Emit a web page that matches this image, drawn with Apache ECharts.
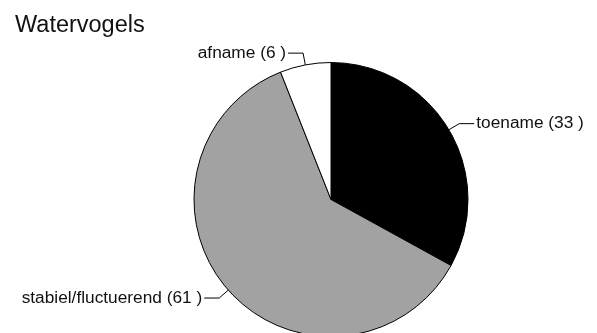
<!DOCTYPE html>
<html>
<head>
<meta charset="utf-8">
<script src="https://cdn.jsdelivr.net/npm/echarts@6/dist/echarts.min.js"></script>
<style>
  html, body { margin: 0; padding: 0; background: #fff; }
  #chart { width: 597px; height: 333px; }
</style>
</head>
<body>
<div id="chart"></div>
<script>
// Trend categories for water birds, counted clockwise from the top
const categories = ['toename', 'stabiel/fluctuerend', 'afname'];
const counts = [33, 61, 6];
const sliceColors = ['#000000', '#a2a2a2', '#ffffff'];

const chart = echarts.init(document.getElementById('chart'), null, { renderer: 'canvas' });

chart.setOption({
  animation: false,
  backgroundColor: '#ffffff',
  title: {
    text: 'Watervogels',
    left: 10,
    top: 9,
    textStyle: {
      fontFamily: 'Liberation Sans, Arial, sans-serif',
      fontSize: 23.5,
      fontWeight: 'normal',
      color: '#111111'
    }
  },
  series: [{
    type: 'pie',
    center: [331, 199.5],
    radius: 137,
    startAngle: 90,
    clockwise: true,
    avoidLabelOverlap: false,
    silent: true,
    data: categories.map((name, i) => ({
      name: name,
      value: counts[i],
      itemStyle: { color: sliceColors[i] }
    })),
    itemStyle: {
      borderColor: '#000000',
      borderWidth: 1
    },
    label: {
      show: true,
      formatter: '{b} ({c} )',
      fontFamily: 'Liberation Sans, Arial, sans-serif',
      fontSize: 17.3,
      color: '#111111',
      padding: [5, 0, 0, 0],
      distanceToLabelLine: 2
    },
    labelLine: {
      show: true,
      length: 12,
      length2: 15,
      lineStyle: { color: '#000000', width: 1 }
    }
  }]
});
</script>
</body>
</html>
